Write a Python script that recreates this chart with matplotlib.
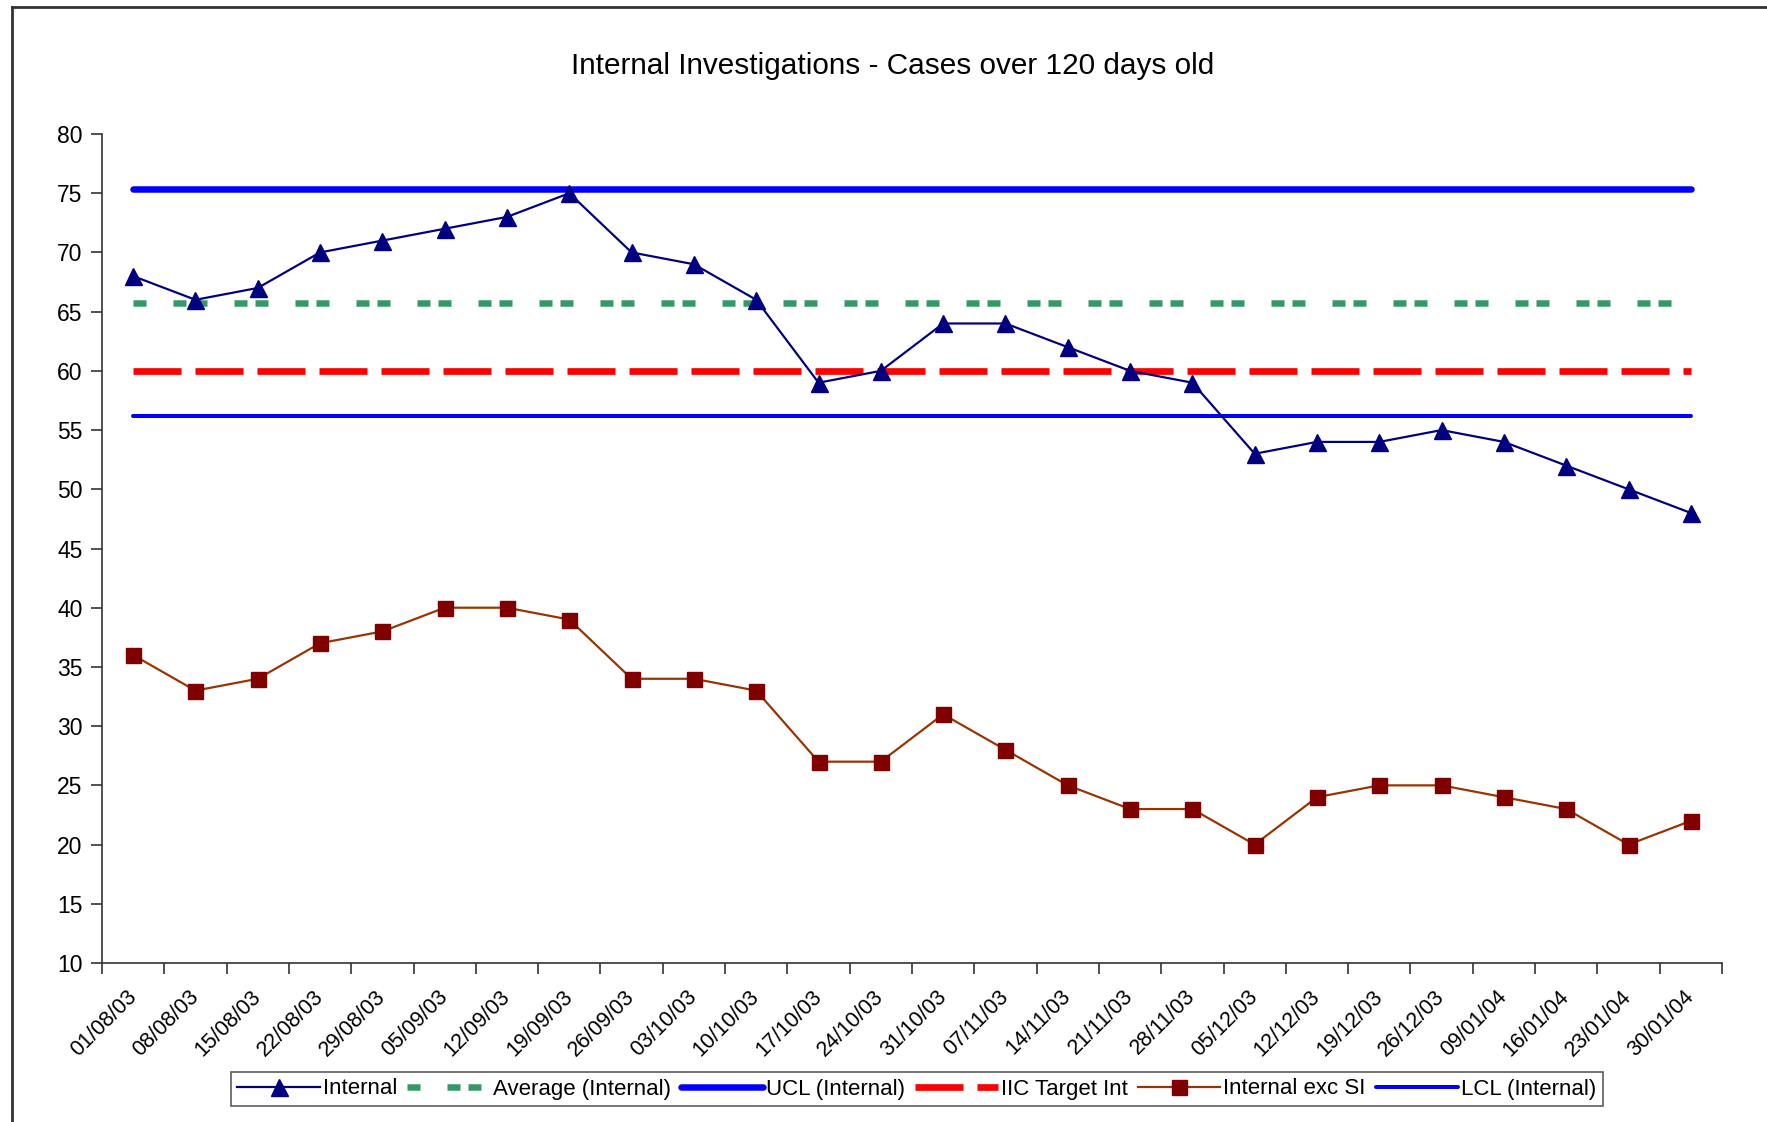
import matplotlib
matplotlib.use("Agg")
import matplotlib.pyplot as plt
from matplotlib.lines import Line2D
import matplotlib.transforms as mtransforms
import numpy as np

plt.rcParams['font.family'] = ['Liberation Sans', 'DejaVu Sans']
plt.rcParams['lines.scale_dashes'] = False

title = "Internal Investigations - Cases over 120 days old"
dates = ["01/08/03", "08/08/03", "15/08/03", "22/08/03", "29/08/03", "05/09/03",
         "12/09/03", "19/09/03", "26/09/03", "03/10/03", "10/10/03", "17/10/03",
         "24/10/03", "31/10/03", "07/11/03", "14/11/03", "21/11/03", "28/11/03",
         "05/12/03", "12/12/03", "19/12/03", "26/12/03", "09/01/04", "16/01/04",
         "23/01/04", "30/01/04"]
internal = [68, 66, 67, 70, 71, 72, 73, 75, 70, 69, 66, 59, 60, 64, 64, 62, 60, 59,
            53, 54, 54, 55, 54, 52, 50, 48]
internal_exc_si = [36, 33, 34, 37, 38, 40, 40, 39, 34, 34, 33, 27, 27, 31, 28, 25, 23,
                   23, 20, 24, 25, 25, 24, 23, 20, 22]
average_internal = 65.75
ucl_internal = 75.35
lcl_internal = 56.15
iic_target = 60.0

n = len(dates)
x = np.arange(n)

W, H = 1767, 1122
fig = plt.figure(figsize=(W / 100, H / 100), dpi=100)
ax = fig.add_axes([102 / W, 1 - 963 / H, (1722 - 102) / W, (963 - 134) / H])

px = 72 / 100  # points per pixel

ax.plot(x, [ucl_internal] * n, color='#0000FF', lw=6.5 * px, solid_capstyle='round',
        label='UCL (Internal)', zorder=2)
ax.plot(x, [lcl_internal] * n, color='#0000FF', lw=4 * px, solid_capstyle='round',
        label='LCL (Internal)', zorder=2)
ax.plot(x, [average_internal] * n, color='#339966', lw=6.5 * px,
        linestyle=(0, (13 * px, 27 * px, 13 * px, 8 * px)), dash_capstyle='butt',
        label='Average (Internal)', zorder=2)
ax.plot(x, [iic_target] * n, color='#FF0000', lw=6.7 * px,
        linestyle=(0, (48 * px, 14 * px)), dash_capstyle='butt',
        label='IIC Target Int', zorder=2)
ax.plot(x, internal_exc_si, color='#993300', lw=2.2 * px, marker='s',
        markersize=15 * px, markerfacecolor='#800000', markeredgecolor='#800000',
        label='Internal exc SI', zorder=3)
ax.plot(x, internal, color='#000080', lw=2.2 * px, marker='^',
        markersize=17 * px, markerfacecolor='#000080', markeredgecolor='#000080',
        label='Internal', zorder=4)

ax.set_xlim(-0.5, n - 0.5)
ax.set_ylim(10, 80)
ax.set_yticks(np.arange(10, 81, 5))
ax.set_xticks(np.arange(n + 1) - 0.5)
ax.set_xticklabels([])
ax.set_xticks(x, minor=True)
ax.set_xticklabels(dates, minor=True, rotation=45, ha='right', va='center',
                   rotation_mode='anchor', fontsize=15.5)
shift = mtransforms.ScaledTranslation(-7 / 100, 0, fig.dpi_scale_trans)
for lbl in ax.get_xticklabels(minor=True):
    lbl.set_transform(lbl.get_transform() + shift)
ax.tick_params(axis='x', which='minor', length=0, pad=22)
ax.tick_params(axis='x', which='major', length=8, width=1.2, color='#333333', direction='out')
ax.tick_params(axis='y', length=8, width=1.2, color='#333333', labelsize=16.5, pad=6)
for s in ['top', 'right']:
    ax.spines[s].set_visible(False)
for s in ['left', 'bottom']:
    ax.spines[s].set_color('#333333')
    ax.spines[s].set_linewidth(1.2)

fig.text(893 / W, 1 - 66 / H, title, ha='center', va='center', fontsize=21.4)

# outer chart frame (partially visible)
fig.add_artist(Line2D([12 / W, 12 / W], [0, 1 - 7 / H], transform=fig.transFigure,
                      color='#333333', lw=2))
fig.add_artist(Line2D([12 / W, 1], [1 - 7 / H, 1 - 7 / H], transform=fig.transFigure,
                      color='#333333', lw=2))

handles, labels = ax.get_legend_handles_labels()
order = ['Internal', 'Average (Internal)', 'UCL (Internal)', 'IIC Target Int',
         'Internal exc SI', 'LCL (Internal)']
hmap = dict(zip(labels, handles))
leg = fig.legend([hmap[o] for o in order], order, loc='center',
                 bbox_to_anchor=(917 / W, 1 - 1089 / H), ncol=6, fontsize=16,
                 frameon=True, fancybox=False, edgecolor='#333333',
                 handlelength=3.7, handletextpad=0.15, columnspacing=0.45,
                 borderpad=0.3)
leg.get_frame().set_linewidth(1.2)

fig.savefig('out.png', dpi=100)
